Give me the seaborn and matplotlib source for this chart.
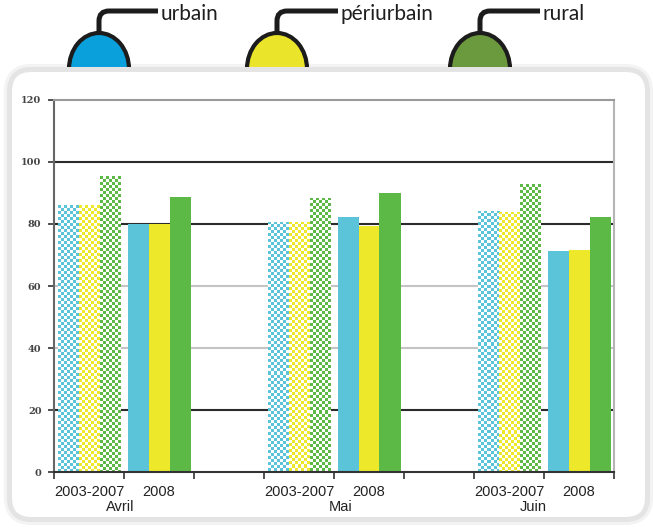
import numpy as np
import pandas as pd
import matplotlib
matplotlib.use("Agg")
import matplotlib.pyplot as plt
import matplotlib.patches as mpatches
from matplotlib.path import Path
import seaborn as sns

# ---- data -------------------------------------------------------------
months = ["Avril", "Mai", "Juin"]
periods = ["2003-2007", "2008"]
zones = ["urbain", "périurbain", "rural"]

urbain_0307 = [86.0, 80.7, 84.2]
urbain_2008 = [80.0, 82.4, 71.4]
periurbain_0307 = [86.0, 80.8, 84.0]
periurbain_2008 = [80.0, 79.4, 71.5]
rural_0307 = [95.4, 88.5, 92.9]
rural_2008 = [88.8, 90.1, 82.4]

y_ticks = [0, 20, 40, 60, 80, 100, 120]

bar_colors = ["#5BC4D9", "#EEE82B", "#5DB946"]
bulb_colors = ["#0AA0DC", "#EAE52B", "#6A9A3D"]

values = {
    ("urbain", "2003-2007"): urbain_0307,
    ("urbain", "2008"): urbain_2008,
    ("périurbain", "2003-2007"): periurbain_0307,
    ("périurbain", "2008"): periurbain_2008,
    ("rural", "2003-2007"): rural_0307,
    ("rural", "2008"): rural_2008,
}

# slots along the x axis: two periods per month, one empty slot between months
slots = []
slot_period = []
for i, m in enumerate(months):
    for p in periods:
        slots.append(f"{m}|{p}")
        slot_period.append(p)
    if i < len(months) - 1:
        slots.append(f"gap{i}")
        slot_period.append("")

rows = []
for z in zones:
    for p in periods:
        for m, v in zip(months, values[(z, p)]):
            rows.append({"slot": f"{m}|{p}", "zone": z, "value": v})
df = pd.DataFrame(rows)

# ---- figure -------------------------------------------------------------
sns.set_theme(style="white")
W, H = 653, 528
fig = plt.figure(figsize=(W / 100, H / 100), dpi=100)

# background layer in pixel units (card + legend bulbs)
bg = fig.add_axes([0, 0, 1, 1])
bg.set_xlim(0, W)
bg.set_ylim(H, 0)
bg.axis("off")
bg.set_zorder(0)

shadow = mpatches.FancyBboxPatch((9.5, 69.5), 638, 450,
                                 boxstyle="round,pad=0,rounding_size=22",
                                 fc="none", ec="#f3f3f3", lw=8, zorder=0.5)
bg.add_patch(shadow)

bulb_x = [99, 277, 480]
line_end = [158, 338, 540]
for cx, col, xe, name in zip(bulb_x, bulb_colors, line_end, zones):
    bg.add_patch(mpatches.Ellipse((cx, 69), 60, 72, fc=col, ec="#1c1c1c",
                                  lw=3.0, zorder=1))
    verts = [(cx, 34), (cx, 21), (cx, 11), (cx + 10, 11), (xe, 11)]
    codes = [Path.MOVETO, Path.LINETO, Path.CURVE3, Path.CURVE3, Path.LINETO]
    bg.add_patch(mpatches.PathPatch(Path(verts, codes), fc="none",
                                    ec="#1c1c1c", lw=3.6, capstyle="butt",
                                    zorder=3))
    bg.text(xe + 3, 20, name, fontsize=15, family="Lato", color="#1e1e1e",
            ha="left", va="baseline", zorder=3)

card = mpatches.FancyBboxPatch((9.5, 69.5), 638, 450,
                               boxstyle="round,pad=0,rounding_size=22",
                               fc="white", ec="#e4e4e4", lw=3.6, zorder=2)
bg.add_patch(card)

# ---- chart -------------------------------------------------------------
ax_left, ax_bottom, ax_w, ax_h = 54, 56, 560, 372
ax = fig.add_axes([ax_left / W, ax_bottom / H, ax_w / W, ax_h / H])
ax.set_zorder(1)
ax.patch.set_alpha(0)

sns.barplot(data=df, x="slot", y="value", hue="zone", order=slots,
            hue_order=zones, palette=bar_colors, saturation=1, width=0.9,
            linewidth=0, errorbar=None, legend=False, ax=ax)

ax.set_xlim(-0.5, len(slots) - 0.5)
ax.set_ylim(0, 120)

# horizontal grid lines behind the bars
grid_style = {20: ("#2b2b2b", 1.5), 40: ("#c4c4c4", 1.5), 60: ("#c4c4c4", 1.5),
              80: ("#2b2b2b", 1.5), 100: ("#2b2b2b", 1.5)}
for yv, (c, lw) in grid_style.items():
    ax.axhline(yv, color=c, lw=lw, zorder=0.5)

# checkered fill for the 2003-2007 reference period
px_x = ax_w / len(slots)
px_y = ax_h / 120.0
cell = 3.0
for cont, col in zip(ax.containers, bar_colors):
    rgb = np.array(matplotlib.colors.to_rgb(col))
    for bar in cont:
        xc = bar.get_x() + bar.get_width() / 2
        if slot_period[int(round(xc))] != "2003-2007":
            continue
        w, h = bar.get_width(), bar.get_height()
        nx = max(1, int(round(w * px_x / cell)))
        ny = int(np.ceil(h * px_y / cell))
        jj, ii = np.meshgrid(np.arange(nx), np.arange(ny))
        mask = ((ii + jj) % 2 == 0)[..., None]
        img = np.where(mask, rgb, np.array([1.0, 1.0, 1.0]))
        bar.set_facecolor("white")
        im = ax.imshow(img, extent=[bar.get_x(), bar.get_x() + w,
                                    h - ny * cell / px_y, h],
                       origin="upper", interpolation="nearest",
                       aspect="auto", zorder=bar.get_zorder() + 0.1)
        im.set_clip_path(bar)

ax.set_xlim(-0.5, len(slots) - 0.5)
ax.set_ylim(0, 120)
ax.set_aspect("auto")

# spines
for side, c in {"left": "#666666", "bottom": "#333333",
                "top": "#9a9a9a", "right": "#b5b5b5"}.items():
    ax.spines[side].set_visible(True)
    ax.spines[side].set_color(c)
    ax.spines[side].set_linewidth(1.5)

# y axis
ax.set_yticks(y_ticks)
ax.set_yticklabels([str(t) for t in y_ticks], fontsize=7, family="DejaVu Serif",
                   fontweight="bold", color="#444444")
ax.tick_params(axis="y", direction="out", length=4, width=1.2, color="#333333",
               pad=5, left=True)
ax.set_ylabel("")

# x axis: boundary ticks, period labels and month labels
ax.set_xticks(np.arange(-0.5, len(slots)), minor=False)
ax.set_xticklabels([])
ax.tick_params(axis="x", direction="out", length=5, width=1.2, color="#333333",
               bottom=True)
ax.set_xlabel("")

label_font = ["Liberation Sans Narrow", "Liberation Sans"]
for i, (s, p) in enumerate(zip(slots, slot_period)):
    if p:
        ax.annotate(p, (i, 0), xytext=(0, -20), textcoords="offset pixels",
                    xycoords=("data", "axes fraction"), ha="center",
                    va="center", fontsize=10.5, family=label_font,
                    color="#222222", annotation_clip=False)
month_label_x = [0.45, 3.6, 6.35]
for mx, m in zip(month_label_x, months):
    ax.annotate(m, (mx, 0), xytext=(0, -35), textcoords="offset pixels",
                xycoords=("data", "axes fraction"), ha="center", va="center",
                fontsize=10.5, family=label_font, color="#222222",
                annotation_clip=False)

fig.savefig("out.png", dpi=100)
